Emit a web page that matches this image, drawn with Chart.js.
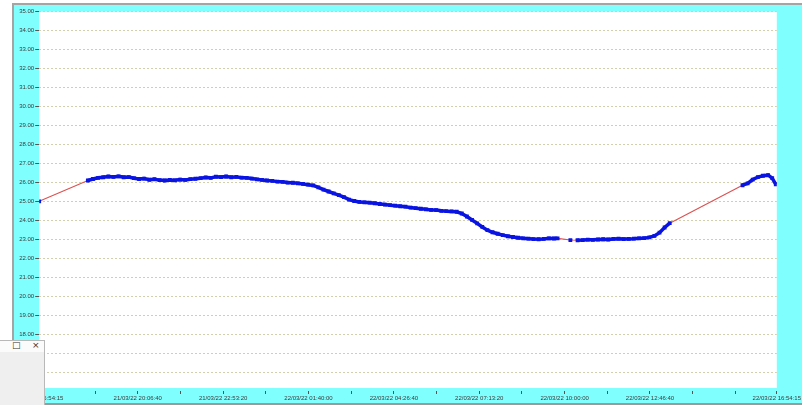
<!DOCTYPE html>
<html>
<head>
<meta charset="utf-8">
<script src="https://cdn.jsdelivr.net/npm/chart.js@4/dist/chart.umd.min.js"></script>
<style>
    html, body { margin: 0; padding: 0; background: #fff; }
    body { width: 802px; height: 405px; overflow: hidden; position: relative; }
    #frame {
        position: absolute; left: 12px; top: 3px; width: 790px; height: 398px;
        background: #80ffff;
        border-top: 2px solid #a4a4a4; border-left: 2px solid #a4a4a4; border-bottom: 2px solid #9a9a9a;
    }
    #myChart { position: absolute; left: 0; top: 0; }
    #popup {
        position: absolute; left: 0; top: 340px; width: 44px; height: 65px;
        background: #efefef; border-top: 1px solid #b8b8b8; border-right: 1px solid #b8b8b8;
        font: 9px "DejaVu Sans", sans-serif; color: #333;
    }
    #popup .bar { height: 11px; background: #fbfbfb; position: relative; }
    #popup .bar span { position: absolute; top: -1px; }
</style>
</head>
<body>
<div id="frame"><canvas id="myChart" width="788" height="398"></canvas></div>
<div id="popup"><div class="bar"><span style="left:12px">&#9633;</span><span style="left:32px">&#215;</span></div></div>
<script>
// logger readings, minutes after 21/03/22 16:54:15
const minutes = [
    0,
    95, 105, 115, 125, 135, 145, 155, 165, 175, 185,
    195, 205, 215, 225, 235, 245, 255, 265, 275, 285,
    295, 305, 315, 325, 335, 345, 355, 365, 375, 385,
    395, 405, 415, 425, 435, 445, 455, 465, 475, 485,
    495, 505, 515, 525, 535, 545, 555, 565, 575, 585,
    595, 605, 615, 625, 635, 645, 655, 665, 675, 685,
    695, 705, 715, 725, 735, 745, 755, 765, 775, 785,
    795, 805, 815, 825, 835, 845, 855, 865, 875, 885,
    895, 905, 915, 925, 935, 945, 955, 965, 975, 985,
    995, 1005, 1012,
    1037,
    1051, 1061, 1071, 1081, 1091, 1101, 1111, 1121, 1131, 1141,
    1151, 1161, 1171, 1181, 1191, 1201, 1211, 1221, 1231,
    1373, 1383, 1393, 1403, 1413, 1423, 1431, 1438
];

const temps = [
    25.00,
    26.10, 26.18, 26.24, 26.27, 26.31, 26.29, 26.32, 26.27, 26.28, 26.22,
    26.18, 26.20, 26.14, 26.17, 26.12, 26.10, 26.13, 26.11, 26.15, 26.13,
    26.17, 26.19, 26.22, 26.26, 26.24, 26.30, 26.28, 26.31, 26.27, 26.29,
    26.25, 26.24, 26.20, 26.16, 26.13, 26.10, 26.08, 26.04, 26.03, 25.99,
    25.98, 25.95, 25.92, 25.88, 25.84, 25.74, 25.62, 25.52, 25.42, 25.33,
    25.22, 25.09, 25.02, 24.97, 24.95, 24.93, 24.90, 24.86, 24.83, 24.80,
    24.77, 24.74, 24.72, 24.67, 24.64, 24.61, 24.58, 24.55, 24.54, 24.50,
    24.48, 24.47, 24.45, 24.36, 24.20, 24.02, 23.84, 23.65, 23.48, 23.37,
    23.29, 23.22, 23.16, 23.12, 23.08, 23.05, 23.03, 23.01, 23.00, 23.02,
    23.05, 23.04, 23.05,
    22.96,
    22.95, 22.96, 22.98, 22.97, 22.99, 23.00, 22.99, 23.02, 23.03, 23.01,
    23.02, 23.03, 23.05, 23.06, 23.10, 23.18, 23.35, 23.62, 23.85,
    25.85, 25.95, 26.15, 26.28, 26.35, 26.38, 26.22, 25.90
];

const xTickMinutes = [0, 109.083, 192.417, 275.75, 359.083, 442.417, 525.75, 609.083, 692.417,
    775.75, 859.083, 942.417, 1025.75, 1109.083, 1192.417, 1275.75, 1359.083, 1440];
const xTickLabels = ['21/03/22 16:54:15', '', '21/03/22 20:06:40', '', '21/03/22 22:53:20', '',
    '22/03/22 01:40:00', '', '22/03/22 04:26:40', '', '22/03/22 07:13:20', '', '22/03/22 10:00:00', '',
    '22/03/22 12:46:40', '', '', '22/03/22 16:54:15'];

const yMin = 15;
const yMax = 35;

const gapMinutes = 12; // longer gaps are joined by the thin red line

const tickFont = { family: '"Liberation Sans Narrow", "Liberation Sans", sans-serif', size: 6 };

const plotBackground = {
    id: 'plotBackground',
    beforeDraw(chart) {
        const { ctx, chartArea: a } = chart;
        ctx.save();
        ctx.fillStyle = '#ffffff';
        ctx.fillRect(a.left, a.top, a.right - a.left, a.bottom - a.top - 3);
        ctx.restore();
    }
};

function drawGraph(graphId) {
    const points = minutes.map((m, i) => ({ x: m, y: temps[i] }));
    const isGap = ctx => ctx.p1.parsed.x - ctx.p0.parsed.x > gapMinutes;

    new Chart(document.getElementById(graphId).getContext('2d'), {
        type: 'line',
        data: {
            datasets: [{
                data: points,
                borderColor: '#0a14e2',
                borderWidth: 3.5,
                pointStyle: 'rect',
                pointRadius: 2.7,
                pointBackgroundColor: '#0a14e2',
                pointBorderWidth: 0,
                tension: 0,
                segment: {
                    borderColor: ctx => isGap(ctx) ? '#dc5050' : '#0a14e2',
                    borderWidth: ctx => isGap(ctx) ? 1.1 : 3.5
                }
            }]
        },
        options: {
            responsive: false,
            devicePixelRatio: 1,
            animation: false,
            layout: { padding: { top: 6.7, right: 23, left: 0, bottom: 0 } },
            plugins: { legend: { display: false }, tooltip: { enabled: false } },
            scales: {
                x: {
                    type: 'linear',
                    min: 0,
                    max: 1440,
                    afterBuildTicks: scale => { scale.ticks = xTickMinutes.map(v => ({ value: v })); },
                    afterFit: scale => { scale.height = 12; },
                    ticks: {
                        autoSkip: false,
                        maxRotation: 0,
                        padding: 1,
                        color: '#3a3a3a',
                        font: tickFont,
                        callback: (v, i) => xTickLabels[i]
                    },
                    grid: { drawOnChartArea: false, tickLength: 3, tickColor: '#555' },
                    border: { display: false }
                },
                y: {
                    min: yMin,
                    max: yMax,
                    afterFit: scale => { scale.width = 24; },
                    ticks: {
                        stepSize: 1,
                        padding: 1,
                        color: '#3a3a3a',
                        font: tickFont,
                        callback: v => v.toFixed(2)
                    },
                    grid: {
                        color: ctx => ctx.tick && ctx.tick.value === yMin ? 'rgba(0,0,0,0)' : '#d2cfae',
                        tickLength: 4,
                        tickColor: '#555'
                    },
                    border: { display: false, dash: [2, 2] }
                }
            }
        },
        plugins: [plotBackground]
    });
}

drawGraph('myChart');
</script>
</body>
</html>
